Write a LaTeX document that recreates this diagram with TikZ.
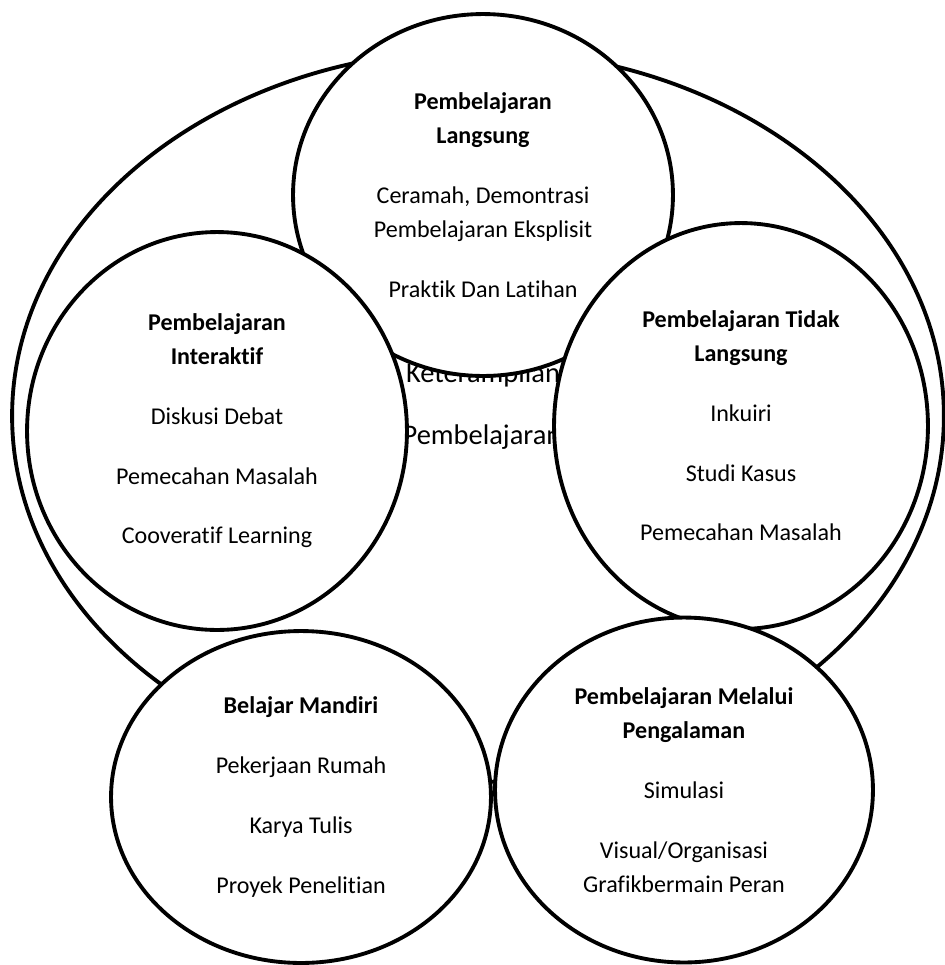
\documentclass[tikz,border=0pt]{standalone}
\usepackage{fontspec}
\setmainfont{Carlito}[Ligatures=NoCommon]
\usetikzlibrary{shapes.geometric}

\begin{document}
\begin{tikzpicture}[x=0.02cm,y=-0.02cm,
  bubble/.style={draw,ellipse,line width=2.2pt,fill=white,align=center,inner sep=0pt,
    font=\fontsize{13.7}{19.3}\selectfont},
  middle/.style={font=\fontsize{16.2}{20}\selectfont}]
\useasboundingbox (0,0) rectangle (945,965);
% ring round all groups
\node[bubble,minimum width=18.64cm,minimum height=14.64cm] (ring) at (478,416) {};
% words in the middle
\node[middle] (ket) at (483,375) {Keterampilan};
\node[middle] (pem) at (482,437) {Pembelajaran};
% the five groups
\node[bubble,minimum width=7.6cm,minimum height=7.24cm] (langsung) at (483,195)
  {\textbf{Pembelajaran}\\\textbf{Langsung}\\[14.7pt]
   Ceramah, Demontrasi\\Pembelajaran Eksplisit\\[14.7pt]
   Praktik Dan Latihan};
\node[bubble,minimum width=7.6cm,minimum height=7.96cm] (interaktif) at (217,431)
  {\textbf{Pembelajaran}\\\textbf{Interaktif}\\[14.7pt]
   Diskusi Debat\\[14.7pt]
   Pemecahan Masalah\\[14.7pt]
   Cooveratif Learning};
\node[bubble,minimum width=7.48cm,minimum height=8.12cm] (tidak) at (741,426)
  {\textbf{Pembelajaran Tidak}\\\textbf{Langsung}\\[14.7pt]
   Inkuiri\\[14.7pt]
   Studi Kasus\\[14.7pt]
   Pemecahan Masalah};
\node[bubble,minimum width=7.6cm,minimum height=6.64cm] (mandiri) at (301,797)
  {\textbf{Belajar Mandiri}\\[14.7pt]
   Pekerjaan Rumah\\[14.7pt]
   Karya Tulis\\[14.7pt]
   Proyek Penelitian};
\node[bubble,minimum width=7.56cm,minimum height=6.9cm] (pengalaman) at (684,790)
  {\textbf{Pembelajaran Melalui}\\\textbf{Pengalaman}\\[14.7pt]
   Simulasi\\[14.7pt]
   Visual/Organisasi\\Grafikbermain Peran};
\end{tikzpicture}
\end{document}
